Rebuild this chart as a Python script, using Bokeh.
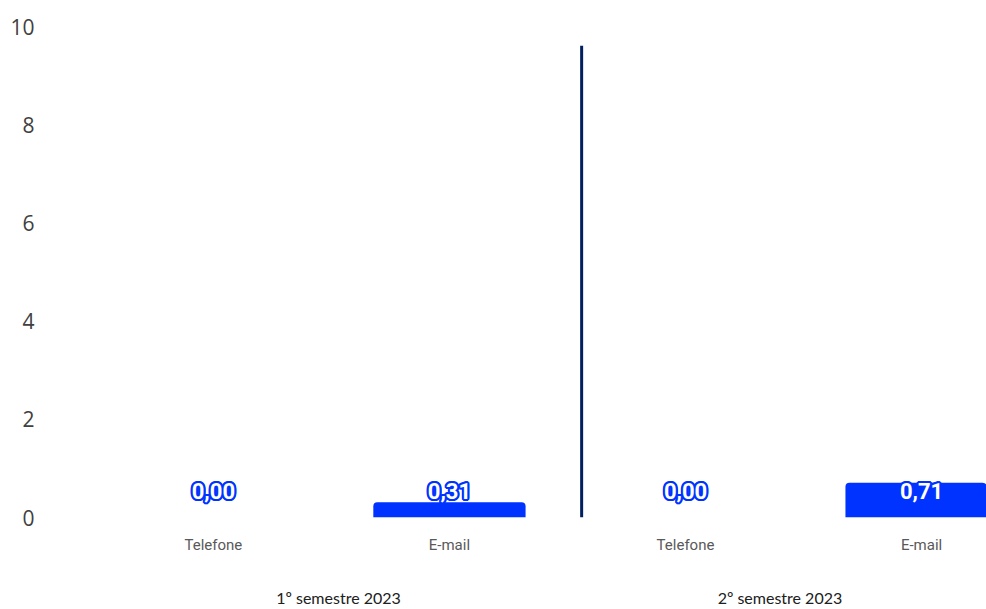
from bokeh.plotting import figure
from bokeh.models import ColumnDataSource, FixedTicker, LinearAxis, Range1d
from bokeh.core.properties import value
from bokeh.embed import file_html
from bokeh.resources import INLINE

categories = ["Telefone", "E-mail", "Telefone", "E-mail"]
groups = ["1º semestre 2023", "2º semestre 2023"]
values = [0.00, 0.31, 0.00, 0.71]
labels = ["0,00", "0,31", "0,00", "0,71"]
y_ticks = [0, 2, 4, 6, 8, 10]

xs = [0.5, 1.5, 2.5, 3.5]
group_x = [1.03, 2.9]
sep_x = 2.06
label_y = 0.53

p = figure(width=986, height=609, output_backend="svg", toolbar_location=None,
           x_range=Range1d(-0.19, 3.775), y_range=Range1d(0, 10),
           min_border_left=50, min_border_right=0, min_border_top=26,
           min_border_bottom=90, x_axis_location=None)
p.outline_line_color = None
p.grid.visible = False
p.background_fill_color = "white"
p.border_fill_color = "white"

src = ColumnDataSource(dict(x=xs, top=values, lab=labels,
                            ly=[label_y] * len(xs)))
p.vbar(x="x", top="top", width=0.645, source=src, fill_color="#0033FF",
       line_color=None, border_radius=[4, 4, 0, 0])

BLUE = "#0033FF"
ring = [(dx, dy) for dx in (-2, -1, 0, 1, 2) for dy in (-2, -1, 0, 1, 2)
        if (dx, dy) != (0, 0) and dx * dx + dy * dy <= 5]
for dx, dy in ring:
    p.text(x="x", y="ly", text="lab", source=src, text_align="center",
           text_baseline="middle", text_color=BLUE, text_font=value("Roboto"),
           text_font_style="bold", text_font_size="22px",
           x_offset=dx, y_offset=dy)
p.text(x="x", y="ly", text="lab", source=src, text_align="center",
       text_baseline="middle", text_color="white", text_font=value("Roboto"),
       text_font_style="bold", text_font_size="22px")

p.segment(x0=[sep_x], y0=[0], x1=[sep_x], y1=[9.61], line_color="#002060",
          line_width=3)

ya = p.yaxis[0]
ya.ticker = FixedTicker(ticks=y_ticks)
ya.axis_line_color = None
ya.major_tick_line_color = None
ya.minor_tick_line_color = None
ya.major_label_text_font = "Open Sans"
ya.major_label_text_font_size = "21px"
ya.major_label_text_color = "#404040"
ya.major_label_standoff = 10

xa = LinearAxis(ticker=FixedTicker(ticks=xs),
                major_label_overrides={x: c for x, c in zip(xs, categories)})
xa.axis_line_color = None
xa.major_tick_line_color = None
xa.minor_tick_line_color = None
xa.major_label_text_font = "Roboto"
xa.major_label_text_font_size = "15px"
xa.major_label_text_color = "#595959"
xa.major_label_standoff = 12
p.add_layout(xa, "below")

ga = LinearAxis(ticker=FixedTicker(ticks=group_x),
                major_label_overrides={x: g for x, g in zip(group_x, groups)})
ga.axis_line_color = None
ga.major_tick_line_color = None
ga.minor_tick_line_color = None
ga.major_label_text_font = "Lato"
ga.major_label_text_font_size = "16px"
ga.major_label_text_color = "#202020"
ga.major_label_standoff = 25
p.add_layout(ga, "below")

open("out.html", "w").write(file_html(p, INLINE))
